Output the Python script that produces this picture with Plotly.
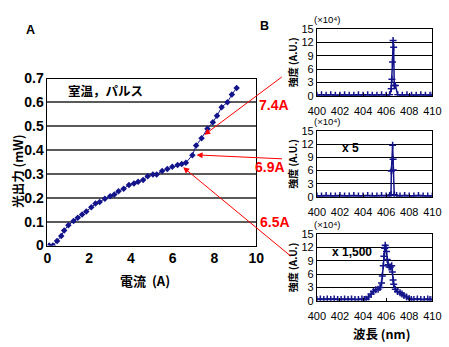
import plotly.graph_objects as go

W, H = 449, 347

# ---- Panel A data: current (A) vs optical output (mW)
current = [0.08, 0.26, 0.46, 0.66, 0.80, 1.00, 1.25, 1.45, 1.66, 1.86, 2.10, 2.30, 2.50,
           2.75, 3.00, 3.20, 3.40, 3.65, 3.90, 4.14, 4.34, 4.58, 4.80, 5.05, 5.23, 5.49,
           5.74, 5.98, 6.23, 6.43, 6.63, 6.94, 7.12, 7.38, 7.66, 7.92, 8.12, 8.34, 8.62,
           8.83, 9.06]
power = [0.0, 0.0, 0.019, 0.040, 0.063, 0.085, 0.103, 0.116, 0.130, 0.143, 0.160, 0.176,
         0.183, 0.196, 0.207, 0.214, 0.228, 0.238, 0.254, 0.260, 0.267, 0.275, 0.291, 0.298,
         0.298, 0.313, 0.321, 0.330, 0.338, 0.342, 0.347, 0.379, 0.419, 0.450, 0.490, 0.517,
         0.544, 0.580, 0.601, 0.633, 0.661]

# ---- Panel B spectra (wavelength nm, intensity x10^4)
wl1 = [400.0, 400.4, 400.8, 401.2, 401.6, 402.0, 402.4, 402.8, 403.2, 403.6, 404.0, 404.4,
       404.8, 405.2, 405.6, 406.0, 406.3, 406.44, 406.5, 406.55, 406.6, 406.65, 406.7,
       406.8, 407.0, 407.4, 407.8, 408.2, 408.6, 409.0, 409.4, 409.8, 410.0]
int1 = [0.1, 0.2, 0.1, 0.2, 0.1, 0.1, 0.2, 0.1, 0.1, 0.2, 0.1, 0.2,
        0.1, 0.1, 0.2, 0.1, 0.2, 1.6, 3.7, 7.6, 12.4, 10.9, 2.3,
        2.3, 0.2, 0.1, 0.2, 0.1, 0.1, 0.2, 0.1, 0.1, 0.1]

wl2 = [400.0, 400.4, 400.8, 401.2, 401.6, 402.0, 402.4, 402.8, 403.2, 403.6, 404.0, 404.4,
       404.8, 405.2, 405.6, 406.0, 406.3, 406.42, 406.45, 406.56, 406.6, 406.62, 406.7,
       406.9, 407.2, 407.6, 408.0, 408.4, 408.8, 409.2, 409.6, 410.0]
int2 = [0.2, 0.2, 0.3, 0.2, 0.2, 0.3, 0.2, 0.2, 0.3, 0.2, 0.2, 0.3,
        0.2, 0.2, 0.3, 0.2, 0.3, 0.5, 5.9, 11.75, 8.6, 6.1, 0.5,
        0.3, 0.2, 0.3, 0.2, 0.2, 0.3, 0.2, 0.2, 0.2]

wl3 = [400.0, 400.3, 400.6, 400.9, 401.2, 401.5, 401.8, 402.1, 402.4, 402.7, 403.0, 403.3,
       403.6, 403.9, 404.1, 404.27, 404.47, 404.7, 404.9, 405.1, 405.3, 405.47, 405.6,
       405.67, 405.75, 405.8, 405.87, 405.92, 405.98, 406.03, 406.09, 406.17, 406.26,
       406.37, 406.48, 406.54, 406.6, 406.65, 406.79, 406.98, 407.2, 407.37, 407.54,
       407.77, 407.99, 408.18, 408.4, 408.7, 409.0, 409.3, 409.6, 409.8, 410.0]
int3 = [0.3, 0.4, 0.3, 0.4, 0.3, 0.4, 0.3, 0.3, 0.4, 0.3, 0.4, 0.3,
        0.3, 0.4, 0.3, 0.35, 0.85, 1.55, 2.1, 2.5, 2.6, 3.0, 4.0,
        5.6, 7.9, 10.0, 11.8, 12.5, 12.0, 11.1, 9.3, 8.1, 7.6,
        7.6, 7.9, 6.5, 4.7, 3.7, 2.6, 2.1, 1.8, 1.55, 1.2,
        0.85, 0.5, 0.3, 0.3, 0.4, 0.3, 0.3, 0.4, 0.3, 0.3]

x_ticks_A = [0, 2, 4, 6, 8, 10]
y_ticks_A = [0, 0.1, 0.2, 0.3, 0.4, 0.5, 0.6, 0.7]
x_ticks_B = [400, 402, 404, 406, 408, 410]
y_ticks_B = [0, 3, 6, 9, 12, 15]

NAVY = "#14148a"
RED = "#ff0000"
LATIN = "Liberation Sans, Arial, sans-serif"
CJK = "Noto Sans CJK JP, sans-serif"


def px(x):
    return x / W


def py(y):
    return 1 - y / H


fig = go.Figure()

fig.add_trace(go.Scatter(
    x=current, y=power, mode="lines+markers", xaxis="x", yaxis="y",
    line=dict(color=NAVY, width=1),
    marker=dict(symbol="diamond", size=5, color=NAVY),
    showlegend=False, hoverinfo="skip"))

for i, (wl, it) in enumerate([(wl1, int1), (wl2, int2), (wl3, int3)], start=2):
    fig.add_trace(go.Scatter(
        x=wl, y=it, mode="lines+markers", xaxis=f"x{i}", yaxis=f"y{i}",
        line=dict(color=NAVY, width=1.5),
        marker=dict(symbol="cross-thin", size=5, color=NAVY, line=dict(color=NAVY, width=1.5)),
        showlegend=False, hoverinfo="skip", cliponaxis=True))

layout = dict(
    width=W, height=H, margin=dict(l=0, r=0, t=0, b=0),
    paper_bgcolor="white", plot_bgcolor="white", showlegend=False,
    xaxis=dict(domain=[px(40), px(257)], range=[0, 10], tickvals=x_ticks_A,
               showgrid=False, zeroline=False, showline=True, mirror=True,
               linecolor="black", linewidth=1, ticks="",
               tickfont=dict(family=LATIN, size=14, color="black", weight="bold"),
               anchor="y", fixedrange=True),
    yaxis=dict(domain=[py(249), py(74)], range=[0, 0.7], tickvals=y_ticks_A,
               ticktext=["0", "0.1", "0.2", "0.3", "0.4", "0.5", "0.6", "0.7"],
               showgrid=True, gridcolor="#5a5a5a", gridwidth=2, zeroline=False,
               showline=True, mirror=True, linecolor="black", linewidth=1, ticks="",
               tickfont=dict(family=LATIN, size=14, color="black", weight="bold"),
               anchor="x", fixedrange=True),
)

panel_y = [(92, 22), (198, 129), (307, 237)]
for i, (yb, yt) in enumerate(panel_y, start=2):
    layout[f"xaxis{i}"] = dict(
        domain=[px(320), px(440)], range=[400, 410], tickvals=x_ticks_B,
        showgrid=False, zeroline=False, showline=True, mirror=True,
        linecolor="black", linewidth=1, ticks="inside", ticklen=3, tickcolor="black",
        tickfont=dict(family=LATIN, size=11, color="black"), ticklabelstandoff=5,
        anchor=f"y{i}", fixedrange=True)
    layout[f"yaxis{i}"] = dict(
        domain=[py(yb), py(yt)], range=[0, 15], tickvals=y_ticks_B,
        showgrid=True, gridcolor="black", gridwidth=1, zeroline=False,
        showline=True, mirror=True, linecolor="black", linewidth=1, ticks="",
        tickfont=dict(family=LATIN, size=11, color="black"),
        anchor=f"x{i}", fixedrange=True)

fig.update_layout(**layout)

ann = []


def txt(x, y, s, size, family=LATIN, color="black", bold=True, angle=0, xanchor="center"):
    ann.append(dict(x=px(x), y=py(y), xref="paper", yref="paper", text=s, showarrow=False,
                    xanchor=xanchor, yanchor="middle", textangle=angle,
                    font=dict(family=family, size=size, color=color,
                              weight="bold" if bold else "normal")))


txt(22, 23, "A", 12.5)
txt(266, 19, "B", 12.5)
txt(59, 87, "室温，パルス", 12.5, family=CJK, xanchor="left")
txt(8, 171, "光出力 (mW)", 12.5, family=CJK, angle=-90)
txt(141, 286, "電流  (A)", 13, family=CJK)
txt(275, 102, "7.4A", 14, color=RED)
txt(271, 167, "6.9A", 14, color=RED)
txt(276, 224, "6.5A", 14, color=RED)
for (yb, yt) in panel_y:
    txt(295, (yb + yt) / 2, "強度 (A.U.)", 10, family=CJK, angle=-90)
    txt(331, yt - 10, "(×10⁴)", 9.5, bold=False)
txt(355, 147, "x 5", 12)
txt(356, 256, "x 1,500", 12)
txt(387, 341, "波長 (nm)", 12.5, family=CJK)

arrows = [(7.51, 0.464, 79, -59), (7.14, 0.38, 87, 4), (6.5, 0.328, 109, 90)]
for (ax_, ay_, dx, dy) in arrows:
    ann.append(dict(x=ax_, y=ay_, xref="x", yref="y", ax=dx, ay=dy, axref="pixel", ayref="pixel",
                    text="", showarrow=True, arrowhead=2, arrowsize=1.2, arrowwidth=1,
                    arrowcolor=RED, standoff=0))

fig.update_layout(annotations=ann)
fig.write_html("out.html")
